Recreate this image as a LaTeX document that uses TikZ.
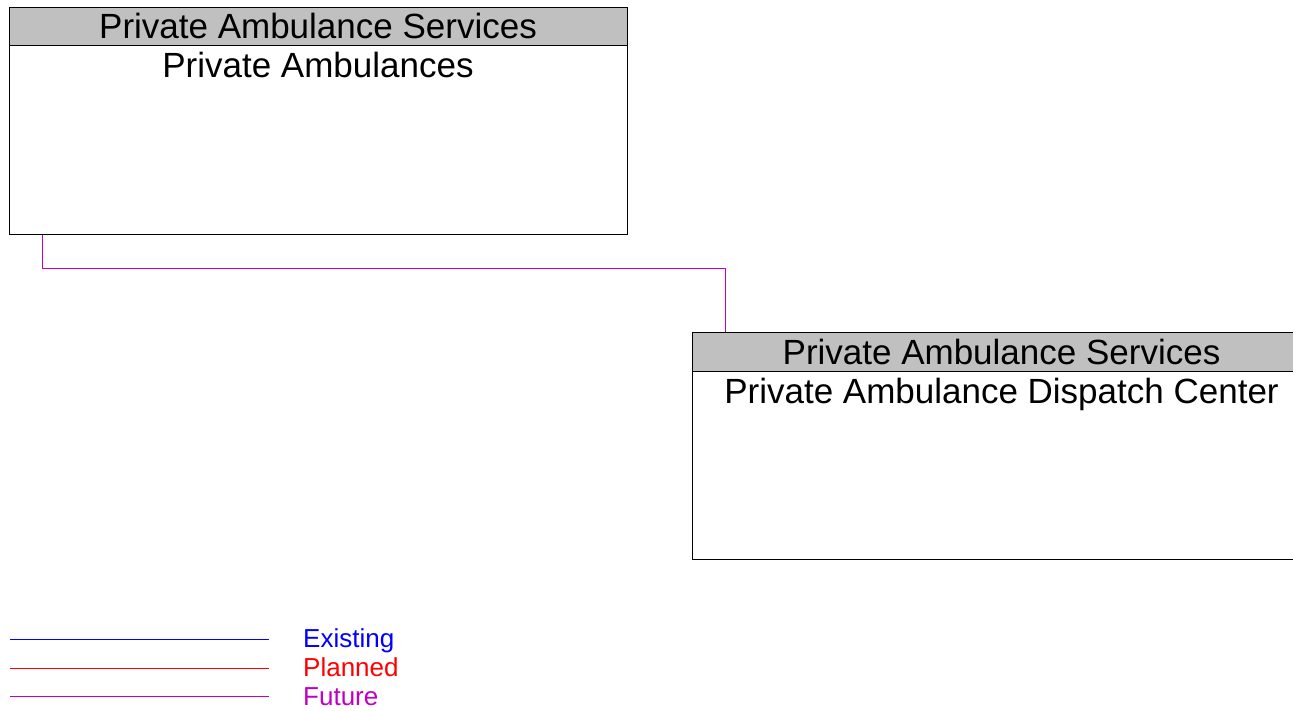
\documentclass[tikz,border=0pt]{standalone}
\usepackage{fontspec}
\setmainfont{Liberation Sans}
\definecolor{futurec}{RGB}{192,0,192}
\definecolor{hdrgray}{RGB}{192,192,192}
\begin{document}
\begin{tikzpicture}[x=1pt,y=-1pt,
  boxshape/.style={draw=black,line width=1pt,fill=white,inner sep=0pt,anchor=north west},
  hdrshape/.style={draw=black,line width=1pt,fill=hdrgray,inner sep=0pt,anchor=north west},
  bigtext/.style={anchor=base,inner sep=0pt,font=\fontsize{35}{40}\selectfont},
  legtext/.style={anchor=base west,inner sep=0pt,font=\fontsize{26}{30}\selectfont},
  legline/.style={line width=1pt}]
\useasboundingbox (0,0) rectangle (1293,710);
\clip (0,0) rectangle (1293,710);
% box 1
\node[boxshape,minimum width=618pt,minimum height=227pt] (b1) at (9,7) {};
\node[hdrshape,minimum width=618pt,minimum height=38pt] (h1) at (9,7) {};
\node[bigtext] (h1t) at (318,38.5) {Private Ambulance Services};
\node[bigtext] (b1t) at (318,77) {Private Ambulances};
% box 2
\node[boxshape,minimum width=620pt,minimum height=227pt] (b2) at (692,332) {};
\node[hdrshape,minimum width=620pt,minimum height=39pt] (h2) at (692,332) {};
\node[bigtext] (h2t) at (1001.5,364) {Private Ambulance Services};
\node[bigtext] (b2t) at (1001.5,403) {Private Ambulance Dispatch Center};
% connector
\draw[futurec,line width=1pt] ([xshift=33pt]b1.south west) -- ++(0,33) -| ([xshift=33pt]h2.north west);
% legend
\coordinate (l1a) at (10,639); \coordinate (l1b) at (269,639);
\coordinate (l2a) at (10,668); \coordinate (l2b) at (269,668);
\coordinate (l3a) at (10,696); \coordinate (l3b) at (269,696);
\draw[legline,blue] (l1a) -- (l1b);
\draw[legline,red] (l2a) -- (l2b);
\draw[legline,futurec] (l3a) -- (l3b);
\node[legtext,text=blue] (t1) at (303,647) {Existing};
\node[legtext,text=red] (t2) at (303,676) {Planned};
\node[legtext,text=futurec] (t3) at (303,705) {Future};
\end{tikzpicture}
\end{document}
